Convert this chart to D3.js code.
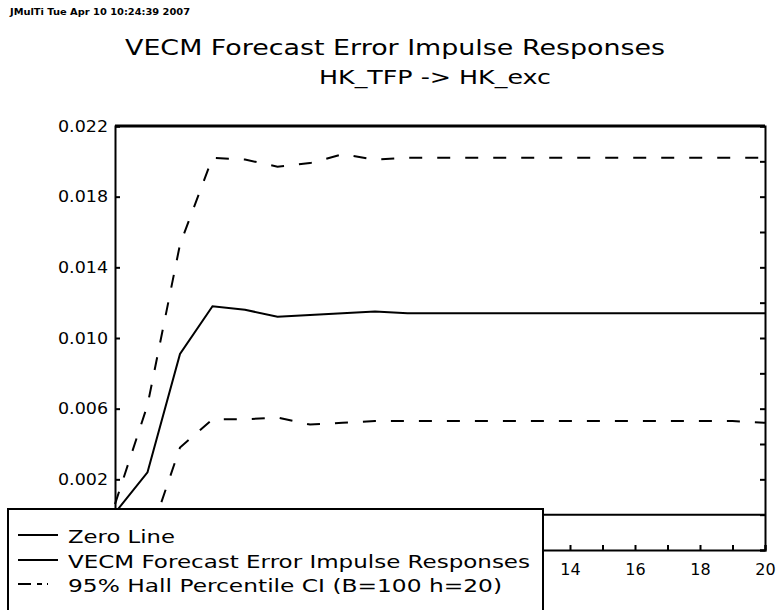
<!DOCTYPE html>
<html>
<head>
<meta charset="utf-8">
<script src="https://cdn.jsdelivr.net/npm/d3@7"></script>
<style>
  body { margin: 0; background: #fff; }
  text { font-family: "DejaVu Sans", sans-serif; fill: #000; }
</style>
</head>
<body>
<div id="chart"></div>
<script>
// horizon 0..20
const horizons = d3.range(0, 21);
// point estimate (solid)
const irf = [0.0001, 0.0024, 0.0091, 0.0118, 0.0116, 0.0112, 0.0113, 0.0114, 0.0115, 0.0114,
  0.0114, 0.0114, 0.0114, 0.0114, 0.0114, 0.0114, 0.0114, 0.0114, 0.0114, 0.0114, 0.0114];
// 95% Hall percentile CI
const ciUpper = [0.0006, 0.0062, 0.0153, 0.0202, 0.0201, 0.0197, 0.0199, 0.0204, 0.0201, 0.0202,
  0.0202, 0.0202, 0.0202, 0.0202, 0.0202, 0.0202, 0.0202, 0.0202, 0.0202, 0.0202, 0.0202];
const ciLower = [-0.0002, -0.0016, 0.0038, 0.0054, 0.0054, 0.0055, 0.0051, 0.0052, 0.0053, 0.0053,
  0.0053, 0.0053, 0.0053, 0.0053, 0.0053, 0.0053, 0.0053, 0.0053, 0.0053, 0.0053, 0.0052];
const yTickLabels = [0.002, 0.006, 0.010, 0.014, 0.018, 0.022];
// labels left of 14 sit under the legend box
const xTickLabels = [14, 16, 18, 20];
const legendLabels = ['Zero Line', 'VECM Forecast Error Impulse Responses', '95% Hall Percentile CI (B=100 h=20)'];

const width = 779, height = 610;
const margin = {top: 126, right: 14, bottom: 60, left: 115};

const svg = d3.select('#chart').append('svg')
  .attr('width', width).attr('height', height);

const x = d3.scaleLinear().domain([0, 20]).range([margin.left, width - margin.right]);
const y = d3.scaleLinear().domain([-0.002, 0.022]).range([height - margin.bottom, margin.top]);

// header line
svg.append('text')
  .attr('x', 10).attr('y', 15)
  .attr('font-size', 8).attr('font-weight', 'bold')
  .attr('textLength', 180).attr('lengthAdjust', 'spacingAndGlyphs')
  .text('JMulTi Tue Apr 10 10:24:39 2007');

svg.append('text')
  .attr('x', 125).attr('y', 55)
  .attr('font-size', 21)
  .attr('textLength', 540).attr('lengthAdjust', 'spacingAndGlyphs')
  .text('VECM Forecast Error Impulse Responses');

svg.append('text')
  .attr('x', 319).attr('y', 84)
  .attr('font-size', 19)
  .attr('textLength', 232).attr('lengthAdjust', 'spacingAndGlyphs')
  .text('HK_TFP -> HK_exc');

// axes
const yLeft = svg.append('g')
  .attr('transform', `translate(${margin.left},0)`)
  .call(d3.axisLeft(y).tickValues(yTickLabels).tickSize(-5).tickPadding(7).tickFormat(d3.format('.3f')));

const yRight = svg.append('g')
  .attr('transform', `translate(${width - margin.right},0)`)
  .call(d3.axisRight(y).tickValues(d3.range(-0.002, 0.0221, 0.002)).tickSize(-5).tickFormat(''));

const xBottom = svg.append('g')
  .attr('transform', `translate(0,${height - margin.bottom})`)
  .call(d3.axisBottom(x).tickValues(horizons).tickSize(-5).tickPadding(14)
    .tickFormat(d => xTickLabels.includes(d) ? d : ''));

[yLeft, yRight, xBottom].forEach(g => {
  g.select('.domain').attr('stroke-width', 2);
  g.selectAll('.tick line').attr('stroke-width', 2);
  g.selectAll('.tick text').attr('font-size', 16).attr('fill', '#000');
});
xBottom.selectAll('.tick text').filter(d => !xTickLabels.includes(d)).remove();
yLeft.selectAll('.tick text').attr('textLength', 50).attr('lengthAdjust', 'spacingAndGlyphs');

// top border
svg.append('line')
  .attr('x1', margin.left).attr('x2', width - margin.right)
  .attr('y1', y(0.022)).attr('y2', y(0.022))
  .attr('stroke', '#000').attr('stroke-width', 3);

const line = d3.line().x((d, i) => x(horizons[i])).y(d => y(d));

// zero line
svg.append('line')
  .attr('x1', x(0)).attr('x2', x(20))
  .attr('y1', y(0)).attr('y2', y(0))
  .attr('stroke', '#000').attr('stroke-width', 2);

svg.append('path').datum(irf)
  .attr('d', line).attr('fill', 'none')
  .attr('stroke', '#000').attr('stroke-width', 2);

[ciUpper, ciLower].forEach(s => {
  svg.append('path').datum(s)
    .attr('d', line).attr('fill', 'none')
    .attr('stroke', '#000').attr('stroke-width', 2)
    .attr('stroke-dasharray', '13,15');
});

// legend
const legend = svg.append('g');
legend.append('rect')
  .attr('x', 8).attr('y', 509).attr('width', 535).attr('height', 110)
  .attr('fill', '#fff').attr('stroke', '#000').attr('stroke-width', 2);

const dashes = [null, null, '13,6,5,5,1,20'];
const rowY = [535, 560, 584];
legendLabels.forEach((label, i) => {
  legend.append('line')
    .attr('x1', 18).attr('x2', 58)
    .attr('y1', rowY[i]).attr('y2', rowY[i])
    .attr('stroke', '#000').attr('stroke-width', 2)
    .attr('stroke-dasharray', dashes[i]);
  const t = legend.append('text')
    .attr('x', 68).attr('y', rowY[i] + 8)
    .attr('font-size', 18)
    .text(label);
  if (i === 1) t.attr('textLength', 462).attr('lengthAdjust', 'spacingAndGlyphs');
  if (i === 2) t.attr('textLength', 434).attr('lengthAdjust', 'spacingAndGlyphs');
  if (i === 0) t.attr('textLength', 107).attr('lengthAdjust', 'spacingAndGlyphs');
});
</script>
</body>
</html>
